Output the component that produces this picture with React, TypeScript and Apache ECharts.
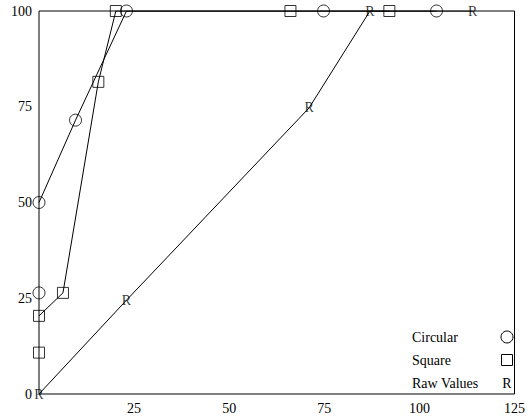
import React, { useEffect, useRef } from "react";
import * as echarts from "echarts";

const xTicks = [0, 25, 50, 75, 100, 125];
const yTicks = [0, 25, 50, 75, 100];

// Circular series (first point stands alone, the rest are joined)
const circularX = [0, 0, 9.6, 23, 74.8, 104.5];
const circularY = [26.4, 50, 71.5, 100, 100, 100];
const circularJoinFrom = 1;

// Square series (first point stands alone, the rest are joined)
const squareX = [0, 0, 6.3, 15.6, 20.2, 66.1, 92.1];
const squareY = [10.8, 20.4, 26.4, 81.5, 100, 100, 100];
const squareJoinFrom = 1;

// Raw values (marked with "R")
const rawX = [0, 23, 71, 87, 114];
const rawY = [0, 24.5, 74.7, 100, 100];
const rawJoinFrom = 0;

const legendNames = ["Circular", "Square", "Raw Values"];

const FONT = "'Liberation Serif', 'DejaVu Serif', serif";

function pairs(xs: number[], ys: number[], from = 0) {
  return xs.map((x, i) => [x, ys[i]]).slice(from);
}

export default function App() {
  const ref = useRef<HTMLDivElement>(null);
  useEffect(() => {
    if (!ref.current) return;
    const chart = echarts.init(ref.current, null, { renderer: "svg" });
    const hollow = { color: "rgba(0,0,0,0)", borderColor: "#000", borderWidth: 1 };
    const lineStyle = { color: "#000", width: 1 };
    const legendX = 412;
    const legendSymX = 507;
    const legendY = [337, 360, 383];
    chart.setOption({
      animation: false,
      backgroundColor: "#fff",
      grid: {
        left: 39,
        top: 11,
        right: 8,
        bottom: 25,
        show: true,
        borderColor: "#000",
        borderWidth: 1,
      },
      xAxis: {
        type: "value",
        min: xTicks[0],
        max: xTicks[xTicks.length - 1],
        interval: 25,
        axisLine: { show: false },
        axisTick: { show: false },
        splitLine: { show: false },
        axisLabel: {
          showMinLabel: false,
          color: "#000",
          fontFamily: FONT,
          fontSize: 14,
          margin: 7,
        },
      },
      yAxis: {
        type: "value",
        min: yTicks[0],
        max: yTicks[yTicks.length - 1],
        interval: 25,
        axisLine: { show: false },
        axisTick: { show: false },
        splitLine: { show: false },
        axisLabel: {
          color: "#000",
          fontFamily: FONT,
          fontSize: 14,
          margin: 7,
        },
      },
      series: [
        {
          type: "line",
          data: pairs(circularX, circularY, circularJoinFrom),
          showSymbol: false,
          lineStyle,
          silent: true,
        },
        {
          type: "scatter",
          data: pairs(circularX, circularY),
          symbol: "circle",
          symbolSize: 12,
          itemStyle: hollow,
        },
        {
          type: "line",
          data: pairs(squareX, squareY, squareJoinFrom),
          showSymbol: false,
          lineStyle,
          silent: true,
        },
        {
          type: "scatter",
          data: pairs(squareX, squareY),
          symbol: "rect",
          symbolSize: 11,
          itemStyle: hollow,
        },
        {
          type: "line",
          data: pairs(rawX, rawY, rawJoinFrom),
          showSymbol: false,
          lineStyle,
          silent: true,
        },
        {
          type: "scatter",
          data: pairs(rawX, rawY),
          symbolSize: 1,
          itemStyle: { color: "rgba(0,0,0,0)" },
          label: {
            show: true,
            position: "inside",
            formatter: "R",
            color: "#000",
            fontFamily: FONT,
            fontSize: 14,
          },
        },
      ],
      graphic: [
        ...legendNames.map((name, i) => ({
          type: "text",
          x: legendX,
          y: legendY[i],
          style: {
            text: name,
            fill: "#000",
            font: `14px ${FONT}`,
            verticalAlign: "middle",
            textAlign: "left",
          },
        })),
        {
          type: "circle",
          shape: { cx: legendSymX, cy: legendY[0], r: 6 },
          style: { fill: "none", stroke: "#000", lineWidth: 1 },
        },
        {
          type: "rect",
          shape: { x: legendSymX - 5.5, y: legendY[1] - 5.5, width: 11, height: 11 },
          style: { fill: "none", stroke: "#000", lineWidth: 1 },
        },
        {
          type: "text",
          x: legendSymX,
          y: legendY[2],
          style: {
            text: "R",
            fill: "#000",
            font: `14px ${FONT}`,
            verticalAlign: "middle",
            textAlign: "center",
          },
        },
      ],
    });
    return () => chart.dispose();
  }, []);
  return (
    <div
      ref={ref}
      style={{ position: "fixed", left: 0, top: 0, width: 528, height: 419 }}
    />
  );
}
